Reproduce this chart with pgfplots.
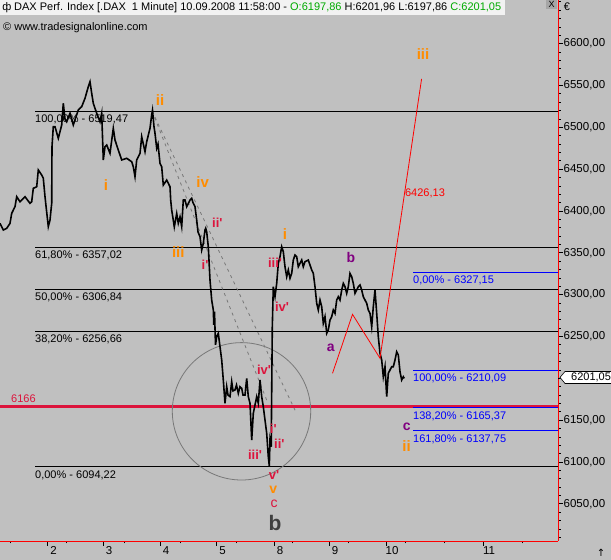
\documentclass[border=0pt]{standalone}
\usepackage{pgfplots}
\pgfplotsset{compat=1.18}
\usepackage{pgfplotstable}
\usepackage{fontspec}
\setmainfont{Liberation Sans}
\newfontfamily\symfont{DejaVu Sans}
\usetikzlibrary{calc}

\definecolor{bg}{RGB}{192,192,192}
\definecolor{wave}{RGB}{255,140,0}
\definecolor{sub}{RGB}{220,20,60}
\definecolor{abc}{RGB}{128,0,128}
\definecolor{fibblue}{RGB}{0,0,255}
\definecolor{okgreen}{RGB}{0,170,0}
\definecolor{trendgray}{RGB}{120,120,120}

% DAX 1 minute, x = chart position (days 2.9. to 10.9.2008), y = index points
\pgfplotstableread{
x y
0 6385.3
3.3 6377.3
6.7 6379.3
10 6385.3
11.7 6397.2
15 6405.2
16.7 6417.1
20 6411.1
25 6417.1
30 6409.2
31.7 6411.1
33.3 6427.1
36.7 6429.0
38.3 6449.0
41.7 6443.0
43.3 6439.1
45 6417.1
48.3 6381.3
50 6389.2
51.7 6409.2
52 6476.9
53.3 6500.8
55 6500.8
58.3 6486.9
61.7 6502.8
63.3 6528.7
65 6510.0
66.7 6506.7
70 6516.8
73.3 6502.8
78.3 6520.7
81.7 6524.7
85 6534.7
88.3 6548.6
90 6554.5
91.7 6540.7
93.3 6528.7
96.7 6516.8
100 6506.7
101.7 6516.8
102.5 6488.8
103.3 6461.0
105 6476.9
106.7 6478.9
110 6469.0
113.3 6498.8
115 6484.9
118.3 6472.9
121.7 6461.0
126.7 6463.0
131.7 6458.9
133.3 6452.9
135 6441.0
136.7 6461.0
140 6469.0
141.7 6488.8
145 6470.9
146.7 6482.8
150 6498.8
151.7 6515.0
152.5 6520.5
154 6500.8
155 6492.9
156.7 6475.0
158 6480.0
160 6457.0
161.7 6452.9
163.3 6431.0
166.7 6437.0
170 6429.0
170.7 6413.0
171.7 6401.0
173.3 6389.0
174.3 6381.0
176.7 6397.0
178.3 6385.3
180 6393.0
181.7 6381.3
183.3 6413.1
185 6413.1
186.7 6405.2
190 6413.1
191.7 6415.2
193 6410.0
195 6405.2
196.7 6389.2
198 6375.0
200 6369.3
201.7 6353.4
203.3 6361.4
205 6377.3
205.7 6379.3
206.7 6375.0
208.3 6357.3
210 6317.5
211.7 6293.6
213.3 6281.7
213.8 6264.0
214.5 6279.7
215.5 6240.0
216.7 6249.8
218.3 6253.8
220 6237.8
221.7 6221.9
223.3 6198.0
225 6170.2
226.7 6190.0
228 6180.0
230 6178.1
231.7 6196.0
233 6185.0
235 6186.1
236.5 6192.0
238.3 6182.1
240 6190.0
241.7 6188.1
243 6180.0
245 6180.1
246.7 6200.0
248.3 6178.1
250 6170.2
251.7 6126.3
253.3 6158.2
255 6168.1
256.7 6178.1
258.3 6170.2
260 6198.0
261.7 6178.1
263.3 6166.1
265 6150.2
266.7 6134.3
268.3 6106.3
269.3 6095.2
270 6126.3
271.2 6118.3
272.3 6261.7
273.3 6309.5
275 6297.6
276.7 6313.5
278.3 6337.5
280 6345.4
281.7 6357.3
283.3 6351.4
285 6333.4
286.7 6321.5
288.3 6329.5
290 6319.6
291.7 6325.5
293.3 6341.4
295 6347.4
296.7 6345.4
298.3 6333.4
300 6337.5
301.7 6341.4
303.3 6333.4
305 6339.4
308.3 6341.4
311.7 6329.5
313.3 6325.5
315 6309.5
316.7 6289.7
318.3 6281.7
320 6293.6
321.7 6285.6
323.3 6265.8
325 6273.7
326.7 6253.8
328.3 6257.8
330 6269.7
331.7 6273.7
333.3 6281.7
335 6277.7
336.7 6293.6
338.3 6297.6
340 6293.6
341.7 6305.6
343.3 6313.5
345 6309.5
346.7 6301.6
348.3 6309.5
350 6325.5
351.7 6321.5
353.3 6313.5
355 6301.6
356.7 6305.6
358.3 6309.5
360 6311.6
361.7 6305.6
363.3 6297.6
365 6293.6
366.7 6289.7
368.3 6281.7
370 6277.7
371.7 6261.7
373.3 6285.6
375 6305.6
376.7 6277.7
378.3 6249.8
380 6229.9
381.7 6221.9
383.3 6201.9
385 6213.9
386.7 6178.1
388.3 6206.0
390 6210.0
391.7 6213.9
393.3 6213.9
395 6221.9
396.7 6231.8
398.3 6227.9
400 6207.9
401.7 6198.0
403.3 6201.9
404.3 6200.0
}\dax

\tikzset{
  wv/.style={text=wave, font=\bfseries\fontsize{15}{15}\selectfont, inner sep=0pt},
  sw/.style={text=sub, font=\bfseries\fontsize{13}{13}\selectfont, inner sep=0pt},
  ab/.style={text=abc, font=\bfseries\fontsize{14}{14}\selectfont, inner sep=0pt},
  fl/.style={anchor=north west, inner sep=0pt, yshift=-4pt, font=\fontsize{11}{13}\selectfont},
}
\newcommand{\pr}{\textquotesingle}

\begin{document}
\begin{tikzpicture}
\useasboundingbox (0pt,0pt) rectangle (611pt,560pt);
\fill[bg] (0pt,0pt) rectangle (611pt,560pt);
\begin{axis}[
  at={(0pt,19pt)}, anchor=south west,
  scale only axis, width=558pt, height=541pt,
  xmin=0, xmax=558, ymin=6005.6, ymax=6652.2,
  axis x line*=bottom, axis y line*=right,
  axis line style={red, line width=0.9pt},
  xtick={47.5,103,160,216.5,274,329,386,483},
  xticklabels={2,3,4,5,8,9,10,11},
  minor xtick={10,66,124,180,236,292,348,405,444,522},
  ytick={6050,6100,6150,6250,6300,6350,6400,6450,6500,6550,6600},
  extra y ticks={6200}, extra y tick labels={},
  minor ytick={6010,6020,...,6650},
  tick align=outside,
  major tick length=4.7pt, minor tick length=2.5pt,
  tick style={black, line width=0.8pt},
  xticklabel style={font=\fontsize{11.5}{13}\selectfont, xshift=6pt, inner sep=1pt},
  yticklabel style={font=\fontsize{11.5}{13}\selectfont, inner sep=0.8pt},
  /pgf/number format/.cd, fixed, fixed zerofill, precision=2, use comma,
  1000 sep={}, assume math mode=true,
]
% Fibonacci retracement (black)
\addplot[black, line width=0.8pt] coordinates {(35,6519.47) (558,6519.47)};
\addplot[black, line width=0.8pt] coordinates {(35,6357.02) (558,6357.02)};
\addplot[black, line width=0.8pt] coordinates {(35,6306.84) (558,6306.84)};
\addplot[black, line width=0.8pt] coordinates {(35,6256.66) (558,6256.66)};
\addplot[black, line width=0.8pt] coordinates {(35,6094.22) (558,6094.22)};
\node[fl] at (axis cs:35,6519.47) {100,00\% - 6519,47};
\node[fl] at (axis cs:35,6357.02) {61,80\% - 6357,02};
\node[fl] at (axis cs:35,6306.84) {50,00\% - 6306,84};
\node[fl] at (axis cs:35,6256.66) {38,20\% - 6256,66};
\node[fl] at (axis cs:35,6094.22) {0,00\% - 6094,22};
% support 6166
\addplot[sub, line width=2.6pt] coordinates {(0,6166) (558,6166)};
\node[anchor=south west, inner sep=0pt, yshift=3.5pt, text=sub, font=\fontsize{11}{13}\selectfont] at (axis cs:11,6166) {6166};
% Fibonacci extension (blue)
\addplot[fibblue, line width=0.8pt] coordinates {(413,6327.15) (558,6327.15)};
\addplot[fibblue, line width=0.8pt] coordinates {(413,6210.09) (558,6210.09)};
\addplot[fibblue, line width=0.8pt] coordinates {(413,6165.37) (558,6165.37)};
\addplot[fibblue, line width=0.8pt] coordinates {(413,6137.75) (558,6137.75)};
\node[fl, text=fibblue] at (axis cs:413,6327.15) {0,00\% - 6327,15};
\node[fl, text=fibblue] at (axis cs:413,6210.09) {100,00\% - 6210,09};
\node[fl, text=fibblue] at (axis cs:413,6165.37) {138,20\% - 6165,37};
\node[fl, text=fibblue] at (axis cs:413,6137.75) {161,80\% - 6137,75};
% trend lines and circle
\addplot[trendgray, line width=0.8pt, dash pattern=on 3pt off 4pt] coordinates {(152,6519.5) (266.7,6174)};
\addplot[trendgray, line width=0.8pt, dash pattern=on 3pt off 4pt] coordinates {(152,6519.5) (295,6162)};
\draw[trendgray, line width=0.8pt] (axis cs:241.5,6160.6) ellipse [x radius=69.2, y radius=82.1];
% price
\addplot[black, line width=1.6pt] table[x=x, y=y] {\dax};
% projection
\addplot[red, line width=0.8pt] coordinates {(332.5,6206) (352.5,6276.5) (380,6224) (421.6,6558)};
\node[text=red, font=\fontsize{11}{13}\selectfont] at (axis cs:425,6421.5) {6426,13};
% wave labels
\node[wv] at (axis cs:160,6532.7) {ii};
\node[wv] at (axis cs:106,6431) {i};
\node[wv] at (axis cs:202.7,6434) {iv};
\node[wv] at (axis cs:178.3,6351.4) {iii};
\node[wv] at (axis cs:285,6372.5) {i};
\node[wv] at (axis cs:423,6588) {iii};
\node[wv] at (axis cs:406.5,6119) {ii};
\node[wv, font=\bfseries\fontsize{14}{14}\selectfont] at (axis cs:273.3,6066.5) {v};
\node[sw] at (axis cs:217.3,6386) {ii\pr};
\node[sw] at (axis cs:205,6335.5) {i\pr};
\node[sw] at (axis cs:275,6338.2) {iii\pr};
\node[sw] at (axis cs:282,6285.6) {iv\pr};
\node[sw] at (axis cs:264,6210) {iv\pr};
\node[sw] at (axis cs:273.3,6140.3) {i\pr};
\node[sw] at (axis cs:279.3,6121.5) {ii\pr};
\node[sw] at (axis cs:255,6108.4) {iii\pr};
\node[sw] at (axis cs:274,6084) {v\pr};
\node[sw, font=\fontsize{14}{14}\selectfont] at (axis cs:274,6050.5) {c};
\node[ab] at (axis cs:330.7,6236) {a};
\node[ab] at (axis cs:351,6344.6) {b};
\node[ab] at (axis cs:406.7,6142) {c};
\node[inner sep=0pt, text=black!75, font=\bfseries\fontsize{21}{21}\selectfont] at (axis cs:275,6026.8) {b};
\coordinate (P) at (axis cs:558,6201.05);
\end{axis}
% last price marker
\draw[black, fill=white, line width=0.6pt] ($(P)+(2pt,0)$) -- ++(5pt,6pt) -- ++(50pt,0) -- ++(0,-12pt) -- ++(-50pt,0) -- cycle;
\node[anchor=west, inner sep=0pt, font=\fontsize{11}{13}\selectfont] at ($(P)+(13pt,0)$) {6201,05};
% header
\fill[white!95!black] (0pt,545pt) rectangle (505pt,560pt);
\node[anchor=west, inner sep=0pt, font=\fontsize{11}{13}\selectfont] at (14pt,552.5pt)
  {DAX Perf. Index [.DAX\ \ 1 Minute] 10.09.2008 11:58:00 - \textcolor{okgreen}{O:6197,86} H:6201,96 L:6197,86 \textcolor{okgreen}{C:6201,05}};
\node[inner sep=0pt, font=\fontsize{11}{13}\selectfont] at (7pt,552.5pt) {ф};
\fill[black!35] (546pt,551pt) rectangle (557pt,560pt);
\node[inner sep=0pt, font=\fontsize{9}{10}\selectfont] at (551.5pt,555.5pt) {X};
\node[inner sep=0pt, font=\fontsize{11}{13}\selectfont] at (567pt,553pt) {€};
\node[anchor=west, inner sep=0pt, font=\fontsize{11}{13}\selectfont] at (3pt,532pt) {© www.tradesignalonline.com};
\node[inner sep=0pt, font=\symfont\fontsize{10}{12}\selectfont] at (601pt,7pt) {↑};
\end{tikzpicture}
\end{document}
